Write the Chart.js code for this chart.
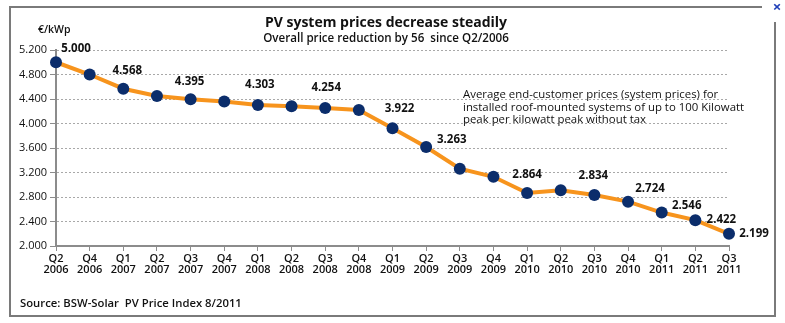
<!DOCTYPE html>
<html>
<head>
<meta charset="utf-8">
<script src="https://cdn.jsdelivr.net/npm/chart.js@4/dist/chart.umd.min.js"></script>
<style>
  html, body { margin: 0; padding: 0; background: #ffffff; }
  #wrap { width: 785px; height: 323px; position: relative; }
</style>
</head>
<body>
<div id="wrap"><canvas id="c" width="785" height="323"></canvas></div>
<script>
// ---- data ----
const quarters = ["Q2","Q4","Q1","Q2","Q3","Q4","Q1","Q2","Q3","Q4","Q1","Q2","Q3","Q4","Q1","Q2","Q3","Q4","Q1","Q2","Q3"];
const years = ["2006","2006","2007","2007","2007","2007","2008","2008","2008","2008","2009","2009","2009","2009","2010","2010","2010","2010","2011","2011","2011"];
const prices = [5000, 4800, 4568, 4450, 4395, 4360, 4303, 4280, 4254, 4220, 3922, 3615, 3263, 3130, 2864, 2910, 2834, 2724, 2546, 2422, 2199];
const valueLabels = ["5.000", null, "4.568", null, "4.395", null, "4.303", null, "4.254", null, "3.922", null, "3.263", null, "2.864", null, "2.834", "2.724", "2.546", "2.422", "2.199"];
const yTicks = [2000, 2400, 2800, 3200, 3600, 4000, 4400, 4800, 5200];

const titleText = "PV system prices decrease steadily";
const subtitleText = "Overall price reduction by 56  since Q2/2006";
const unitText = "€/kWp";
const noteLines = ["Average end-customer prices (system prices) for",
                   "installed roof-mounted systems of up to 100 Kilowatt",
                   "peak per kilowatt peak without tax"];
const sourceText = "Source: BSW-Solar  PV Price Index 8/2011";

// label offsets relative to each point (styling only)
const labelOffsets = {0:[20,-14],2:[4,-18],4:[-1,-18],6:[2,-20],8:[1,-20],10:[7,-20],12:[-8,-29],14:[0,-18],16:[-1,-19],17:[22,-13],18:[25,-7],19:[26,0],20:[25,0]};

const FONT = "'Open Sans', 'DejaVu Sans', sans-serif";

function fmt(v) {
  const s = String(Math.round(v));
  return s.length > 3 ? s.slice(0, s.length - 3) + "." + s.slice(-3) : s;
}

const decor = {
  id: 'decor',
  afterDatasetsDraw(chart) {
    const ctx = chart.ctx;
    const meta = chart.getDatasetMeta(0);
    ctx.save();
    ctx.fillStyle = '#111111';
    ctx.font = "bold 11.5px " + FONT;
    ctx.textAlign = 'center';
    ctx.textBaseline = 'middle';
    meta.data.forEach((pt, i) => {
      const t = valueLabels[i];
      if (!t) return;
      const off = labelOffsets[i] || [0, -18];
      ctx.fillText(t, pt.x + off[0], pt.y + off[1]);
    });
    ctx.restore();
  },
  afterDraw(chart) {
    const ctx = chart.ctx;
    ctx.save();
    // frame
    ctx.strokeStyle = '#7a7a7a';
    ctx.lineWidth = 2;
    ctx.beginPath();
    ctx.moveTo(762, 7);
    ctx.lineTo(10, 7);
    ctx.lineTo(10, 316);
    ctx.lineTo(775, 316);
    ctx.lineTo(775, 22);
    ctx.stroke();
    // close icon
    ctx.fillStyle = '#1f3fb8';
    ctx.font = "bold 15px " + FONT;
    ctx.textAlign = 'center';
    ctx.textBaseline = 'middle';
    ctx.fillText("×", 777, 8);
    // title
    ctx.fillStyle = '#111111';
    ctx.font = "bold 14px " + FONT;
    ctx.fillText(titleText, 386, 23);
    ctx.font = "600 11.6px " + FONT;
    ctx.fillText(subtitleText, 386, 39);
    // unit
    ctx.font = "600 10.5px " + FONT;
    ctx.textAlign = 'left';
    ctx.fillText(unitText, 38, 30);
    // note
    ctx.font = "11.4px " + FONT;
    noteLines.forEach((l, i) => ctx.fillText(l, 463, 95 + i * 12.5));
    // source
    ctx.font = "600 11.3px " + FONT;
    ctx.fillText(sourceText, 20, 304);
    ctx.restore();
  }
};

new Chart(document.getElementById('c'), {
  type: 'line',
  data: {
    labels: quarters.map((q, i) => [q, years[i]]),
    datasets: [{
      data: prices,
      borderColor: '#f7941d',
      borderWidth: 4,
      backgroundColor: '#0b2d6b',
      pointBackgroundColor: '#0b2d6b',
      pointBorderColor: '#0b2d6b',
      pointRadius: 6,
      pointBorderWidth: 0,
      tension: 0,
      clip: false,
      fill: false
    }]
  },
  options: {
    responsive: false,
    animation: false,
    layout: { padding: { top: 50, right: 56, left: 0, bottom: 0 } },
    plugins: { legend: { display: false }, title: { display: false }, tooltip: { enabled: false } },
    scales: {
      x: {
        offset: false,
        afterFit(s) { s.height = 77; },
        grid: { drawOnChartArea: false, drawTicks: true, tickLength: 5, color: '#8c8c8c' },
        border: { color: '#8c8c8c', width: 2 },
        ticks: { autoSkip: false, maxRotation: 0, minRotation: 0, padding: 2, color: '#111111',
                 font: { family: FONT, size: 11, weight: '600', lineHeight: 1.05 } }
      },
      y: {
        min: 2000, max: 5200,
        afterFit(s) { s.width = 56; },
        afterBuildTicks(s) { s.ticks = yTicks.map(v => ({ value: v })); },
        grid: { color: '#a8a8a8', lineWidth: 1, tickLength: 6, tickColor: '#8c8c8c' },
        border: { color: '#8c8c8c', width: 2, dash: [2, 2] },
        ticks: { padding: 3, color: '#111111', callback: v => fmt(v),
                 font: { family: FONT, size: 11 } }
      }
    }
  },
  plugins: [decor]
});
</script>
</body>
</html>
